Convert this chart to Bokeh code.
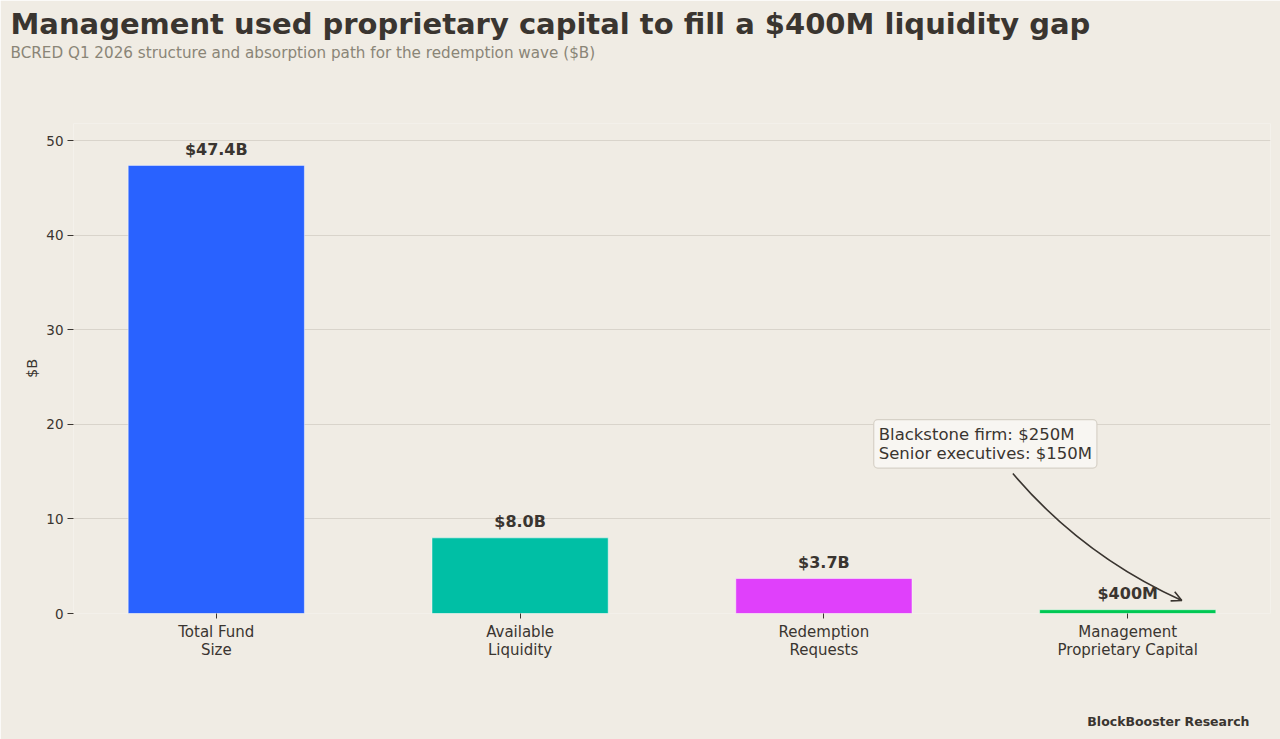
from bokeh.plotting import figure
from bokeh.models import Label, Arrow, OpenHead, FixedTicker, Range1d, ColumnDataSource, Title
from bokeh.embed import file_html
from bokeh.resources import INLINE
from bokeh.core.properties import value

# ---------------- data ----------------
categories = ["Total Fund\nSize", "Available\nLiquidity", "Redemption\nRequests",
              "Management\nProprietary Capital"]
values_b = [47.4, 8.0, 3.7, 0.4]
value_labels = ["$47.4B", "$8.0B", "$3.7B", "$400M"]
bar_colors = ["#2962ff", "#00bfa5", "#e040fb", "#00c853"]
y_ticks = [0, 10, 20, 30, 40, 50]
annotation_lines = ["Blackstone firm: $250M", "Senior executives: $150M"]

title = "Management used proprietary capital to fill a $400M liquidity gap"
subtitle = "BCRED Q1 2026 structure and absorption path for the redemption wave ($B)"
credit = "BlockBooster Research"

# annotation geometry (data coordinates)
BOX_XY = (2.164, 20.5)
ARROW_TAIL = (2.622, 14.8)
ARROW_TIP = (3.178, 1.38)
ARROW_CTRL = (2.852, 6.1)

# ---------------- style ----------------
BG = "#f0ece4"
DARK = "#3a3530"
GREY = "#8a8577"
GRID = "#d9d4cb"
FONT = "DejaVu Sans"

W, H = 1280, 739
LEFT, RIGHT, TOP, BOTTOM = 73, 10, 123, 126

xs = list(range(len(categories)))
src = ColumnDataSource(dict(x=xs, top=values_b, color=bar_colors, label=value_labels))

p = figure(width=W, height=H, x_range=Range1d(-0.47, 3.47), y_range=Range1d(0, 51.83),
           output_backend="svg", toolbar_location=None,
           min_border_left=LEFT, min_border_right=RIGHT,
           min_border_top=TOP, min_border_bottom=BOTTOM,
           background_fill_color=BG, border_fill_color=BG, outline_line_color=None)

p.vbar(x="x", top="top", bottom=0, width=0.58, fill_color="color",
       line_color="white", line_width=0.8, line_alpha=0.6, source=src)

p.text(x="x", y="top", text="label", source=src, text_font=value(FONT),
       text_font_style="bold", text_font_size="16px", text_color=DARK,
       text_align="center", text_baseline="alphabetic", y_offset=-16)

# grid / axes
p.xgrid.visible = False
p.ygrid.grid_line_color = GRID
p.ygrid.grid_line_width = 1
p.yaxis.ticker = FixedTicker(ticks=y_ticks)
p.xaxis.ticker = FixedTicker(ticks=xs)
p.xaxis.major_label_overrides = {i: c for i, c in zip(xs, categories)}

for ax in (p.xaxis[0], p.yaxis[0]):
    ax.axis_line_color = None
    ax.minor_tick_line_color = None
    ax.major_tick_line_color = DARK
    ax.major_tick_in = 0
    ax.major_label_text_font = FONT
    ax.major_label_text_color = DARK

p.yaxis.major_tick_out = 6
p.yaxis.major_label_standoff = 4
p.yaxis.major_label_text_font_size = "13.5px"
p.yaxis.axis_label = "$B"
p.yaxis.axis_label_text_font = FONT
p.yaxis.axis_label_text_font_style = "normal"
p.yaxis.axis_label_text_font_size = "14.5px"
p.yaxis.axis_label_text_color = DARK
p.yaxis.axis_label_standoff = 3

p.xaxis.major_tick_out = 5
p.xaxis.major_label_standoff = 4
p.xaxis.major_label_text_font_size = "15px"
p.xaxis.major_label_text_line_height = 1.05

# curved arrow
p.quadratic(x0=[ARROW_TAIL[0]], y0=[ARROW_TAIL[1]], x1=[ARROW_TIP[0]], y1=[ARROW_TIP[1]],
            cx=[ARROW_CTRL[0]], cy=[ARROW_CTRL[1]], line_color=DARK, line_width=1.6)
ex = ARROW_TIP[0] - 0.03 * (ARROW_TIP[0] - ARROW_CTRL[0])
ey = ARROW_TIP[1] - 0.03 * (ARROW_TIP[1] - ARROW_CTRL[1])
p.add_layout(Arrow(end=OpenHead(size=10, line_color=DARK, line_width=1.6),
                   x_start=ex, y_start=ey, x_end=ARROW_TIP[0], y_end=ARROW_TIP[1],
                   line_color=DARK, line_width=1.6))

# annotation box
p.add_layout(Label(x=BOX_XY[0], y=BOX_XY[1], text="\n".join(annotation_lines),
                   anchor="top_left", padding=5, border_radius=4,
                   text_font=FONT, text_font_size="16.5px", text_color=DARK,
                   text_line_height=1.02,
                   background_fill_color="#f8f6f2", background_fill_alpha=1.0,
                   border_line_color="#d6d1c7", border_line_width=1.2))

# titles & credit (stacked outward from the frame; spacers set the gaps)
p.add_layout(Title(text=" ", text_font_size="1px", standoff=59), "above")
p.add_layout(Title(text=subtitle, align="left", offset=10 - LEFT, standoff=0,
                   text_font=FONT, text_font_size="15.2px", text_font_style="normal",
                   text_color=GREY), "above")
p.add_layout(Title(text=title, align="left", offset=10 - LEFT, standoff=2,
                   text_font=FONT, text_font_size="29px", text_font_style="bold",
                   text_color=DARK), "above")
p.add_layout(Title(text=" ", text_font_size="1px", standoff=46), "below")
p.add_layout(Title(text=credit, align="right", offset=1270 - 1249, standoff=0,
                   text_font=FONT, text_font_size="12.5px", text_font_style="bold",
                   text_color=DARK), "below")

open("out.html", "w").write(file_html(p, INLINE))
